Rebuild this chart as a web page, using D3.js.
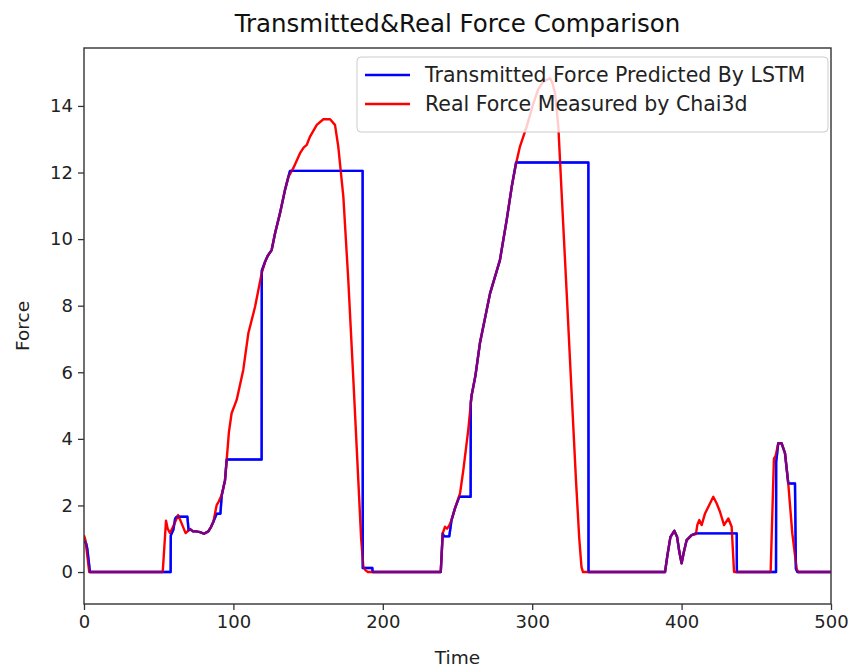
<!DOCTYPE html>
<html>
<head>
<meta charset="utf-8">
<script src="https://cdn.jsdelivr.net/npm/d3@7/dist/d3.min.js"></script>
<style>
  html, body { margin: 0; padding: 0; background: #fff; }
  svg { display: block; font-family: "DejaVu Sans", sans-serif; }
</style>
</head>
<body>
<svg id="chart" width="853" height="670"></svg>
<script>
// Real force measured by Chai3d: [time, force]
const realForce = [
  [0,1.1],[1,0.95],[3.5,0],[52.7,0],[54.9,1.54],[56,1.3],[57.6,1.17],[60,1.4],[63,1.71],[65,1.5],
  [68,1.17],[71,1.29],[73,1.22],[75,1.22],[77.7,1.2],[80.3,1.15],[83.2,1.22],[85,1.35],[86.6,1.51],
  [88.8,2.01],[90,2.1],[92.2,2.31],[94.4,2.76],[95.5,3.36],[97,4.2],[98.8,4.77],[102.2,5.17],
  [106.6,6.07],[110,7.17],[114.5,7.97],[118.9,8.97],[121.2,9.32],[123,9.5],[125.6,9.67],[128,10.2],
  [131.2,10.78],[134.5,11.47],[136.8,11.87],[140.1,12.13],[144.6,12.58],[147,12.75],[149.1,12.83],
  [151.3,13.08],[155.8,13.43],[160.2,13.6],[164.7,13.6],[168,13.43],[170.2,12.78],[173.6,11.27],
  [176.9,8.77],[180.3,5.77],[183.6,2.76],[185.5,1.0],[187,0.15],[188.5,0.05],[190,0],
  [238.8,0],[240.1,1.16],[241.6,1.36],[243,1.3],[244.5,1.4],[246,1.56],[248.3,1.91],[251.7,2.36],
  [253.9,3.06],[257.2,4.27],[259.5,5.32],[262,5.9],[265,6.87],[271.8,8.37],[278.4,9.37],
  [282.9,10.57],[286.3,11.57],[289.2,12.27],[291.8,12.78],[296.3,13.38],[300.8,14.08],[304,14.5],
  [307.4,14.73],[311.9,14.83],[313.5,14.7],[315.3,14.38],[317.5,13.38],[319.7,11.38],[323.1,8.37],
  [326.4,5.37],[329.3,2.76],[331.5,1.0],[333,0.15],[334,0],
  [388.9,0],[390.5,0.5],[392.5,1.05],[395.1,1.24],[397,1.05],[398.5,0.6],[400,0.26],[401.5,0.6],
  [403.4,0.96],[406.7,1.11],[409.6,1.14],[410.5,1.41],[411.8,1.56],[413.4,1.41],[415.7,1.76],
  [419,2.06],[421.2,2.26],[423.5,2.06],[425.7,1.81],[428.4,1.41],[431.3,1.61],[433.5,1.36],
  [435.1,0],[459.6,0],[461.8,3.41],[463,3.5],[464.7,3.87],[466.9,3.87],[469.2,3.57],[471.4,2.66],
  [474.1,1.16],[477,0.1],[478,0],[500,0]
];

// Transmitted force predicted by the LSTM: [time, force]
const lstmForce = [
  [0,0.95],[1.5,0.85],[2.2,0.7],[4,0],[58,0],[58.1,1.1],[59.8,1.27],[61,1.6],[62,1.66],[69.2,1.66],
  [70,1.25],[71,1.29],[73,1.22],[75,1.22],[77.7,1.2],[80.3,1.15],[83.2,1.22],[85,1.35],[86.6,1.51],
  [88.8,1.75],[91.3,1.75],[92.2,2.31],[94.4,2.76],[95.5,3.38],[118.9,3.38],[119,9.05],
  [121.2,9.32],[123,9.5],[125.6,9.67],[128,10.2],[131.2,10.78],[134.5,11.47],[136.8,11.87],
  [137.9,12.05],[186.5,12.05],[186.6,0.12],[193,0.12],[193.2,0],
  [238.8,0],[240.1,1.16],[241,1.07],[244.5,1.07],[246,1.56],[248.3,1.91],[251.2,2.26],[258.8,2.26],
  [258.9,5.1],[259.5,5.32],[262,5.9],[265,6.87],[271.8,8.37],[278.4,9.37],[282.9,10.57],
  [286.3,11.57],[289.2,12.3],[337.6,12.3],[337.7,0],
  [388.9,0],[390.5,0.5],[392.5,1.05],[395.1,1.24],[397,1.05],[398.5,0.6],[400,0.26],[401.5,0.6],
  [403.4,0.96],[406.7,1.11],[409.6,1.16],[436.9,1.16],[437,0],
  [463.2,0],[463.3,3.3],[464.7,3.87],[466.9,3.87],[469.2,3.57],[471.4,2.66],[475.9,2.66],
  [476.5,0.1],[477.5,0],[500,0]
];

const xTicks = [0, 100, 200, 300, 400, 500];
const yTicks = [0, 2, 4, 6, 8, 10, 12, 14];
const seriesNames = ["Transmitted Force Predicted By LSTM", "Real Force Measured by Chai3d"];
const titleText = "Transmitted&Real Force Comparison";

const svg = d3.select("#chart");
const plot = { left: 84, right: 831, top: 48, bottom: 604 };

const x = d3.scaleLinear().domain([0, 500]).range([plot.left, plot.right]);
const y = d3.scaleLinear().domain([-0.96, 15.74]).range([plot.bottom, plot.top]);

const line = d3.line().x(d => x(d[0])).y(d => y(d[1]));

svg.append("defs").append("clipPath").attr("id", "plotClip")
  .append("rect").attr("x", plot.left).attr("y", plot.top)
  .attr("width", plot.right - plot.left).attr("height", plot.bottom - plot.top);

const g = svg.append("g").attr("clip-path", "url(#plotClip)");
const lw = 2.4;

// LSTM trace, then real force, then a translucent LSTM pass so coincident stretches read as purple
g.append("path").datum(lstmForce).attr("d", line)
  .attr("fill", "none").attr("stroke", "#0000ff").attr("stroke-width", lw).attr("stroke-linejoin", "round");
g.append("path").datum(realForce).attr("d", line)
  .attr("fill", "none").attr("stroke", "#ff0000").attr("stroke-width", lw).attr("stroke-linejoin", "round");
g.append("path").datum(lstmForce).attr("d", line)
  .attr("fill", "none").attr("stroke", "#0000ff").attr("stroke-opacity", 0.5)
  .attr("stroke-width", lw).attr("stroke-linejoin", "round");

// Axes
const axisColor = "#333";
const xAxis = svg.append("g").attr("transform", `translate(0,${plot.bottom})`)
  .call(d3.axisBottom(x).tickValues(xTicks).tickSize(6).tickPadding(5).tickFormat(d3.format("d")));
const yAxis = svg.append("g").attr("transform", `translate(${plot.left},0)`)
  .call(d3.axisLeft(y).tickValues(yTicks).tickSize(6).tickPadding(5).tickFormat(d3.format("d")));
[xAxis, yAxis].forEach(a => {
  a.select(".domain").remove();
  a.selectAll(".tick line").attr("stroke", axisColor).attr("stroke-width", 1.3);
  a.selectAll(".tick text").attr("fill", "#222").attr("font-size", 18)
    .attr("font-family", "DejaVu Sans, sans-serif");
});

// Frame
svg.append("rect").attr("x", plot.left).attr("y", plot.top)
  .attr("width", plot.right - plot.left).attr("height", plot.bottom - plot.top)
  .attr("fill", "none").attr("stroke", axisColor).attr("stroke-width", 1.4);

// Title and axis labels
svg.append("text").attr("x", (plot.left + plot.right) / 2).attr("y", 32)
  .attr("text-anchor", "middle").attr("font-size", 24.5).attr("fill", "#111").text(titleText);
svg.append("text").attr("x", (plot.left + plot.right) / 2).attr("y", 664)
  .attr("text-anchor", "middle").attr("font-size", 18.5).attr("fill", "#222").text("Time");
svg.append("text").attr("transform", `translate(29,${(plot.top + plot.bottom) / 2}) rotate(-90)`)
  .attr("text-anchor", "middle").attr("font-size", 18.5).attr("fill", "#222").text("Force");

// Legend
const legend = svg.append("g");
legend.append("rect").attr("x", 357).attr("y", 57).attr("width", 471).attr("height", 75)
  .attr("rx", 4).attr("fill", "#fff").attr("fill-opacity", 0.8)
  .attr("stroke", "#ccc").attr("stroke-width", 1);
const legendColors = ["#0000ff", "#ff0000"];
seriesNames.forEach((name, i) => {
  const ly = 75 + i * 29;
  legend.append("line").attr("x1", 365).attr("x2", 410).attr("y1", ly).attr("y2", ly)
    .attr("stroke", legendColors[i]).attr("stroke-width", lw);
  legend.append("text").attr("x", 425).attr("y", ly + 7).attr("font-size", 20.5)
    .attr("fill", "#222").text(name);
});
</script>
</body>
</html>
